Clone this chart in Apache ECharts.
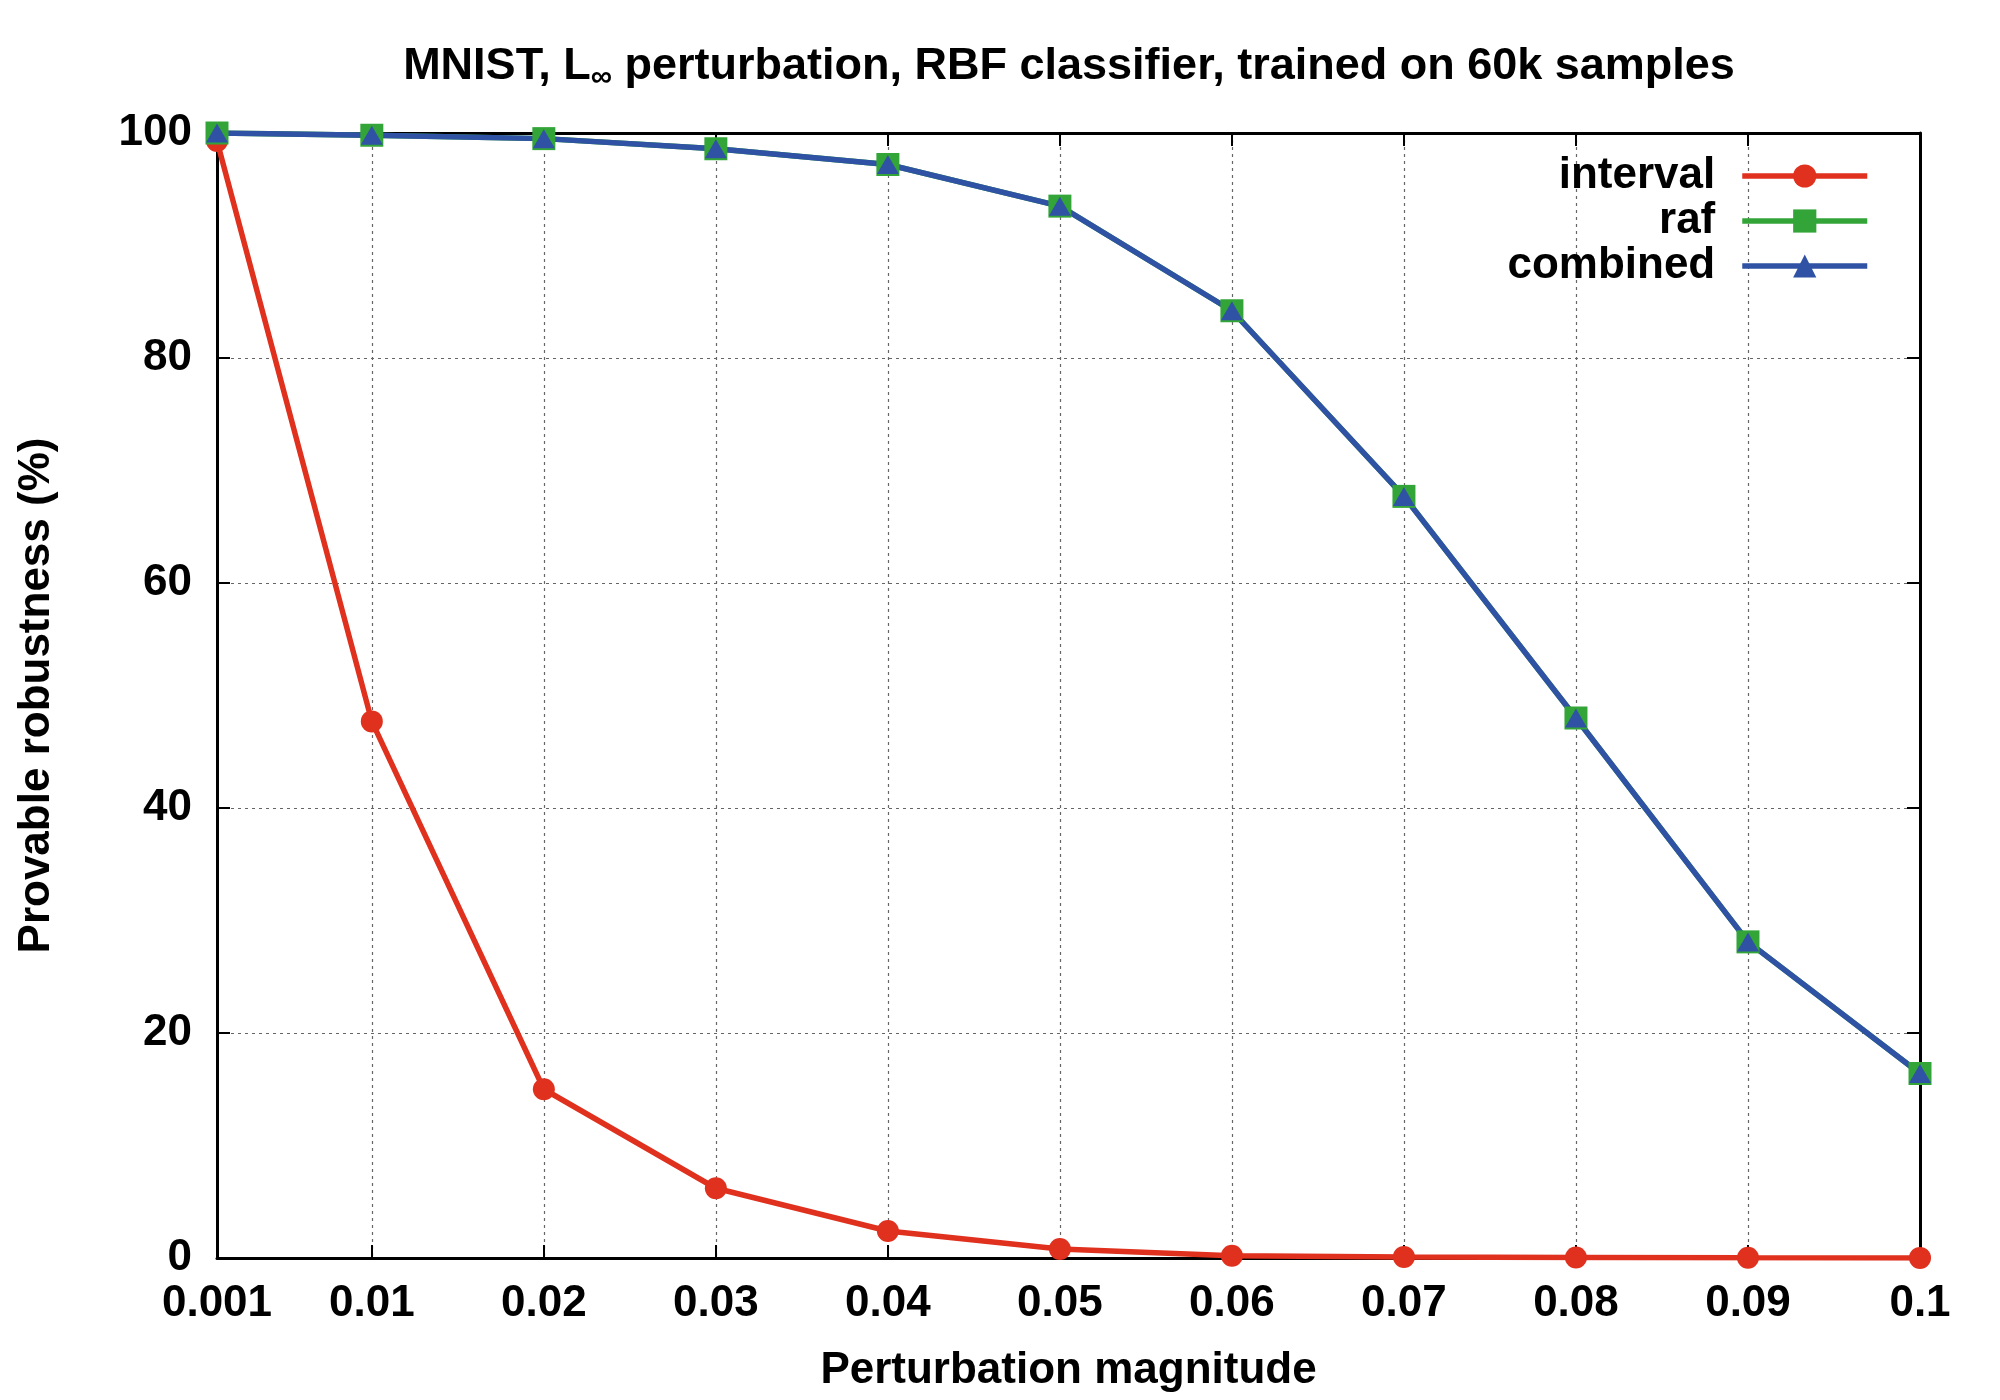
<!DOCTYPE html>
<html>
<head>
<meta charset="utf-8">
<script src="https://cdn.jsdelivr.net/npm/echarts@6.0.0/dist/echarts.min.js"></script>
<style>
  html, body { margin: 0; background: #fff; }
  #mainPlot { width: 2000px; height: 1400px; }
</style>
</head>
<body>
<div id="mainPlot"></div>
<script>
// perturbation magnitudes (x) and the tick labels shown under the axis
const magnitudes = [0.001, 0.01, 0.02, 0.03, 0.04, 0.05, 0.06, 0.07, 0.08, 0.09, 0.1];
const xTickLabels = ["0.001", "0.01", "0.02", "0.03", "0.04", "0.05", "0.06", "0.07", "0.08", "0.09", "0.1"];
const yTicks = [0, 20, 40, 60, 80, 100];

// provable robustness (%) per method
const intervalVals = [99.3, 47.7, 15.0, 6.2, 2.4, 0.8, 0.2, 0.1, 0.05, 0.02, 0.01];
const rafVals = [100, 99.8, 99.5, 98.6, 97.2, 93.5, 84.2, 67.7, 48.0, 28.1, 16.4];
const combinedVals = [100, 99.8, 99.5, 98.6, 97.2, 93.5, 84.2, 67.7, 48.0, 28.1, 16.4];

const FONT = "Liberation Sans";
const RED = "#e0301e";
const GREEN = "#33a538";
const BLUE = "#2f52a4";

function pairs(vals) {
  return magnitudes.map((m, i) => [m, vals[i]]);
}

function lineSeries(name, vals, color, symbol, size) {
  return {
    name: name,
    type: "line",
    data: pairs(vals),
    symbol: symbol,
    symbolSize: size,
    showAllSymbol: true,
    lineStyle: { color: color, width: 5.5 },
    itemStyle: { color: color },
    emphasis: { disabled: true },
    animation: false,
  };
}

const gridLine = { show: true, lineStyle: { color: "#666", width: 1.2, type: [3, 4] } };
const tickStyle = { show: true, inside: true, length: 13, lineStyle: { color: "#000", width: 2 } };
const border = { show: true, onZero: false, lineStyle: { color: "#000", width: 3 } };
const labelFont = { color: "#000", fontFamily: FONT, fontWeight: "bold", fontSize: 44 };

const chart = echarts.init(document.getElementById("mainPlot"));
chart.setOption({
  backgroundColor: "#fff",
  animation: false,
  title: {
    text: "MNIST, L{sub|∞} perturbation, RBF classifier, trained on 60k samples",
    left: 1064,
    top: 36,
    textAlign: "center",
    textStyle: {
      color: "#000", fontFamily: FONT, fontWeight: "bold", fontSize: 45,
      rich: {
        sub: { color: "#000", fontFamily: FONT, fontWeight: "bold", fontSize: 30, padding: [22, 0, 0, 0] },
      },
    },
  },
  legend: {
    orient: "vertical",
    right: 130,
    top: 154,
    align: "right",
    padding: 0,
    itemGap: 1,
    itemWidth: 125,
    itemHeight: 29,
    selectedMode: false,
    data: ["interval", "raf", "combined"],
    lineStyle: { width: 5.5 },
    textStyle: { ...labelFont, lineHeight: 44, padding: [0, 22, 0, 0] },
  },
  grid: { left: 217, right: 80, top: 133, bottom: 142 },
  xAxis: [
    {
      type: "value",
      min: 0.001,
      max: 0.1,
      name: "Perturbation magnitude",
      nameLocation: "middle",
      nameGap: 91,
      nameTextStyle: labelFont,
      axisLine: border,
      axisTick: { ...tickStyle, customValues: magnitudes },
      axisLabel: {
        ...labelFont,
        margin: 24,
        customValues: magnitudes,
        formatter: (v) => xTickLabels[magnitudes.indexOf(v)] ?? String(v),
      },
      splitLine: gridLine,
    },
    {
      type: "value",
      position: "top",
      min: 0.001,
      max: 0.1,
      axisLine: border,
      axisTick: { ...tickStyle, customValues: magnitudes },
      axisLabel: { show: false },
      splitLine: { show: false },
    },
  ],
  yAxis: [
    {
      type: "value",
      min: 0,
      max: 100,
      interval: 20,
      name: "Provable robustness (%)",
      nameLocation: "middle",
      nameGap: 158,
      nameTextStyle: labelFont,
      axisLine: border,
      axisTick: tickStyle,
      axisLabel: { ...labelFont, margin: 25, formatter: (v) => (yTicks.includes(v) ? String(v) : "") },
      splitLine: gridLine,
    },
    {
      type: "value",
      position: "right",
      min: 0,
      max: 100,
      interval: 20,
      axisLine: border,
      axisTick: tickStyle,
      axisLabel: { show: false },
      splitLine: { show: false },
    },
  ],
  series: [
    lineSeries("interval", intervalVals, RED, "circle", 22),
    lineSeries("raf", rafVals, GREEN, "rect", 23),
    lineSeries("combined", combinedVals, BLUE, "triangle", [22, 19]),
  ],
});
</script>
</body>
</html>
